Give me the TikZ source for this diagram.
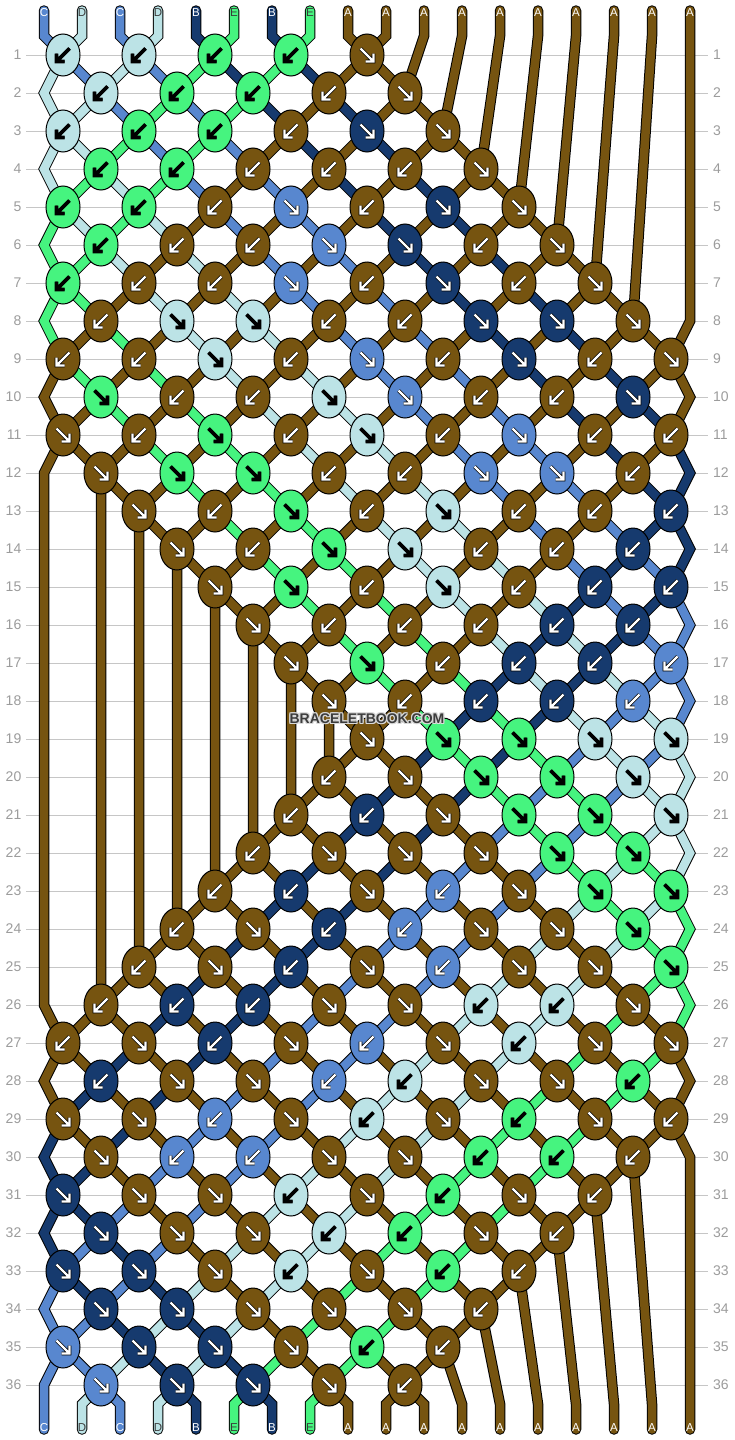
\documentclass[tikz,border=0pt]{standalone}
\usepackage{fontspec}
\setmainfont{Liberation Sans}
\definecolor{cA}{HTML}{765410}
\definecolor{cB}{HTML}{163A6E}
\definecolor{cC}{HTML}{5887CF}
\definecolor{cD}{HTML}{BCE3E6}
\definecolor{cE}{HTML}{46F47F}
\colorlet{tA}{white}
\colorlet{tB}{white}
\colorlet{tC}{white}
\definecolor{tD}{HTML}{3A3A3A}
\definecolor{tE}{HTML}{3A3A3A}
\definecolor{gridgray}{HTML}{C6C6C6}
\definecolor{numgray}{HTML}{9C9C9C}
\definecolor{wmgray}{HTML}{3C3C3C}
\definecolor{wmhalo}{HTML}{D9D9D9}
% ---- knot directions per row (L = backward, R = forward, - = no knot)
\def\rs#1#2{\expandafter\def\csname rowspec#1\endcsname{#2}}
\rs{1}{L,L,L,L,R,-,-,-,-}
\rs{2}{L,L,L,L,R,-,-,-}
\rs{3}{L,L,L,L,R,R,-,-,-}
\rs{4}{L,L,L,L,L,R,-,-}
\rs{5}{L,L,L,R,L,R,R,-,-}
\rs{6}{L,L,L,R,R,L,R,-}
\rs{7}{L,L,L,R,L,R,L,R,-}
\rs{8}{L,R,R,L,L,R,R,R}
\rs{9}{L,L,R,L,R,L,R,L,R}
\rs{10}{R,L,L,R,R,L,L,R}
\rs{11}{R,L,R,L,R,L,R,L,L}
\rs{12}{R,R,R,L,L,R,R,L}
\rs{13}{-,R,L,R,L,R,L,L,L}
\rs{14}{-,R,L,R,R,L,L,L}
\rs{15}{-,-,R,R,L,R,L,L,L}
\rs{16}{-,-,R,L,L,L,L,L}
\rs{17}{-,-,-,R,R,L,L,L,L}
\rs{18}{-,-,-,R,L,L,L,L}
\rs{19}{-,-,-,-,R,R,R,R,R}
\rs{20}{-,-,-,L,R,R,R,R}
\rs{21}{-,-,-,L,L,R,R,R,R}
\rs{22}{-,-,L,R,R,R,R,R}
\rs{23}{-,-,L,L,R,L,R,R,R}
\rs{24}{-,L,R,L,L,R,R,R}
\rs{25}{-,L,R,L,R,L,R,R,R}
\rs{26}{L,L,L,R,R,L,L,R}
\rs{27}{L,R,L,R,L,R,L,R,R}
\rs{28}{L,R,R,L,L,R,R,L}
\rs{29}{R,R,L,R,L,R,L,R,L}
\rs{30}{R,L,L,R,R,L,L,L}
\rs{31}{R,R,R,L,R,L,R,L,-}
\rs{32}{R,R,R,L,L,R,L,-}
\rs{33}{R,R,R,L,R,L,L,-,-}
\rs{34}{R,R,R,R,R,L,-,-}
\rs{35}{R,R,R,R,L,L,-,-,-}
\rs{36}{R,R,R,R,L,-,-,-}
% ---- simulation
\def\appendpt#1#2#3{\expandafter\xdef\csname PATH#1\endcsname{\csname PATH#1\endcsname\space--\space(#2,#3)}}
\def\doknot{%
  \edef\tsa{\csname P\lp\endcsname}%
  \edef\tsb{\csname P\rp\endcsname}%
  \appendpt{\tsa}{\kx}{\ry}%
  \appendpt{\tsb}{\kx}{\ry}%
  \if\kd L\edef\kc{\csname SC\tsb\endcsname}\else\edef\kc{\csname SC\tsa\endcsname}\fi
  \xdef\knotlist{\unexpanded\expandafter{\knotlist}\noexpand\drawknot{\kx}{\ry}{\kc}{\kd}}%
  \expandafter\xdef\csname P\lp\endcsname{\tsb}%
  \expandafter\xdef\csname P\rp\endcsname{\tsa}%
}
\gdef\knotlist{}
\foreach \pp/\cl in {1/C,2/D,3/C,4/D,5/B,6/E,7/B,8/E,9/A,10/A,11/A,12/A,13/A,14/A,15/A,16/A,17/A,18/A}{%
  \pgfmathtruncatemacro\xx{6+38*\pp}%
  \expandafter\xdef\csname P\pp\endcsname{\pp}%
  \expandafter\xdef\csname SC\pp\endcsname{\cl}%
  \expandafter\xdef\csname PATH\pp\endcsname{(\xx,10.5) -- (\xx,36)}%
}
\foreach \rr in {1,...,36}{%
  \pgfmathtruncatemacro\ry{55+38*(\rr-1)}%
  \pgfmathtruncatemacro\rodd{mod(\rr,2)}%
  \edef\spec{\csname rowspec\rr\endcsname}%
  \ifnum\rodd=1
    \foreach \kd [count=\kk] in \spec {%
      \if\kd-\else
        \pgfmathtruncatemacro\lp{2*\kk-1}%
        \pgfmathtruncatemacro\rp{2*\kk}%
        \pgfmathtruncatemacro\kx{63+76*(\kk-1)}%
        \doknot
      \fi}%
  \else
    \foreach \kd [count=\kk] in \spec {%
      \if\kd-\else
        \pgfmathtruncatemacro\lp{2*\kk}%
        \pgfmathtruncatemacro\rp{2*\kk+1}%
        \pgfmathtruncatemacro\kx{101+76*(\kk-1)}%
        \doknot
      \fi}%
    \edef\tsa{\csname P1\endcsname}\appendpt{\tsa}{44}{\ry}%
    \edef\tsb{\csname P18\endcsname}\appendpt{\tsb}{690}{\ry}%
  \fi
}
\foreach \pp in {1,...,18}{%
  \pgfmathtruncatemacro\xx{6+38*\pp}%
  \edef\tsa{\csname P\pp\endcsname}%
  \appendpt{\tsa}{\xx}{1404}%
  \appendpt{\tsa}{\xx}{1429.5}%
}
% ---- knot drawing
\newcommand\drawknot[4]{%
  \path[knotshape,fill=c#3] (#1,#2) ellipse [x radius=17,y radius=21];%
  \if#4L\def\asgn{-1}\else\def\asgn{1}\fi
  \def\acol{white}%
  \if#3D\def\acol{black}\fi
  \if#3E\def\acol{black}\fi
  \draw[arrowout] ({#1-6.5*(\asgn)},{#2-6.5}) -- ({#1+6.5*(\asgn)},{#2+6.5})
     ({#1+6.5*(\asgn)},{#2-1.5}) -- ({#1+6.5*(\asgn)},{#2+6.5}) -- ({#1-1.5*(\asgn)},{#2+6.5});
  \draw[arrowin,draw=\acol] ({#1-6.5*(\asgn)},{#2-6.5}) -- ({#1+6.5*(\asgn)},{#2+6.5})
     ({#1+6.5*(\asgn)},{#2-1.5}) -- ({#1+6.5*(\asgn)},{#2+6.5}) -- ({#1-1.5*(\asgn)},{#2+6.5});
}
\begin{document}
\begin{tikzpicture}[x=1pt,y=-1pt,
  strout/.style={draw=black,line width=10.5pt,line join=miter,line cap=round},
  strin/.style={line width=8.5pt,line join=miter,line cap=round},
  knotshape/.style={draw=black,line width=1pt},
  arrowout/.style={draw=black,line width=3.6pt,line join=miter,line cap=butt},
  arrowin/.style={line width=2.2pt,line join=miter,line cap=butt},
  gridline/.style={draw=gridgray,line width=1pt},
  rownum/.style={text=numgray,inner sep=0pt,font=\fontsize{14}{14}\selectfont},
  tablabel/.style={inner sep=0pt,font=\fontsize{11.5}{12}\selectfont},
  wm/.style={inner sep=0pt,font=\fontsize{14}{14}\selectfont\bfseries}]
\useasboundingbox (0,0) rectangle (734,1440);
\fill[white] (0,0) rectangle (734,1440);
% grid lines and row numbers
\foreach \rr in {1,...,36}{%
  \pgfmathtruncatemacro\yy{55+38*(\rr-1)}%
  \draw[gridline] (26,\yy) -- (708,\yy);
  \node[rownum,anchor=east] (nl\rr) at (21.5,\yy) {\rr};
  \node[rownum,anchor=west] (nr\rr) at (713,\yy) {\rr};
}
% strings
\foreach \sid in {1,...,18}{%
  \edef\scol{\csname SC\sid\endcsname}%
  \edef\tmp{\noexpand\draw[strout] \csname PATH\sid\endcsname;}\tmp
  \edef\tmp{\noexpand\draw[strin,draw=c\scol] \csname PATH\sid\endcsname;}\tmp
}
% knots
\knotlist
% string end labels
\foreach \pp/\cl in {1/C,2/D,3/C,4/D,5/B,6/E,7/B,8/E,9/A,10/A,11/A,12/A,13/A,14/A,15/A,16/A,17/A,18/A}{%
  \pgfmathtruncatemacro\xx{6+38*\pp}%
  \node[tablabel,text=t\cl] (top\pp) at (\xx,12.8) {\cl};
  \node[tablabel,text=t\cl] (bot\pp) at (\xx,1428) {\cl};
}
% watermark
\foreach \dx/\dy in {-1/0,1/0,0/-1,0/1,-1/-1,1/1,-1/1,1/-1}{%
  \node[wm,text=wmhalo] at ({367+\dx},{719+\dy}) {BRACELETBOOK.COM};
}
\node[wm,text=wmgray] (wm) at (367,719) {BRACELETBOOK.COM};
\end{tikzpicture}
\end{document}
